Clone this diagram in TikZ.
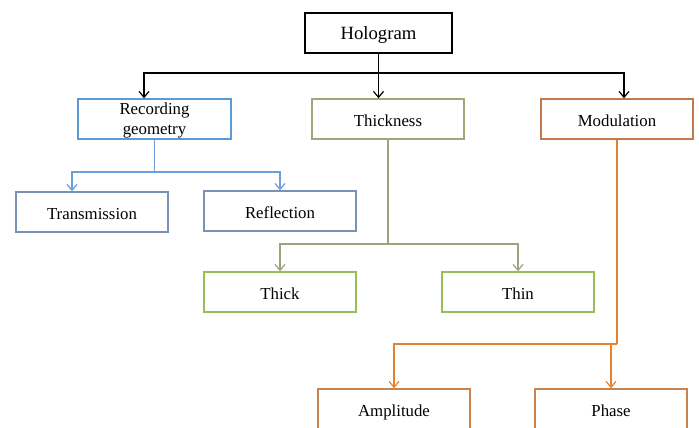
\documentclass[tikz,border=0pt]{standalone}
\usepackage{fontspec}
\setmainfont{Liberation Serif}
\usetikzlibrary{arrows.meta, positioning, calc}
\definecolor{hgBlue}{HTML}{5B9BD5}
\definecolor{hgBlueDk}{HTML}{7A93B5}
\definecolor{hgBlueLn}{HTML}{6A9FDB}
\definecolor{hgOlive}{HTML}{9BAA76}
\definecolor{hgGreen}{HTML}{9BBB59}
\definecolor{hgGreenLn}{HTML}{98A67E}
\definecolor{hgBrown}{HTML}{C07A4C}
\definecolor{hgOrange}{HTML}{C8834E}
\definecolor{hgOrangeLn}{HTML}{E6822E}

\begin{document}
\begin{tikzpicture}[
    x=1pt, y=-1pt,
    box/.style={draw, line width=1.4pt, fill=white, minimum width=152pt,
                minimum height=40pt, inner sep=0pt, align=center,
                text height=14pt, text depth=0pt,
                font=\fontsize{16.8}{20}\selectfont, text=black},
    link/.style={line width=1.2pt},
    tip/.style={link, -{Straight Barb[length=6pt, width=10pt]}},
  ]
  \useasboundingbox (0,0) rectangle (699,428);
  \clip (0,0) rectangle (699,428);

  \node[box, draw=black, minimum width=147pt, font=\fontsize{18.7}{22}\selectfont] (holo) at (378.5,33) {Hologram};

  \node[box, draw=hgBlue, minimum width=153pt, text height={}, text depth=-3pt] (rec) at (154.5,119) {Recording\\geometry};
  \node[box, draw=hgOlive] (thk) at (388,119) {Thickness};
  \node[box, draw=hgBrown] (mod) at (617,119) {Modulation};

  \node[box, draw=hgBlueDk] (trans) at (92,212) {Transmission};
  \node[box, draw=hgBlueDk] (refl) at (280,211) {Reflection};

  \node[box, draw=hgGreen] (thick) at (280,292) {Thick};
  \node[box, draw=hgGreen] (thin) at (518,292) {Thin};

  \node[box, draw=hgOrange] (amp) at (394,409) {Amplitude};
  \node[box, draw=hgOrange] (phase) at (611,409) {Phase};

  % top level: hologram to the three kinds
  \coordinate (hbus) at (378.5,73);
  \draw[tip, draw=black] (holo.south) -- (holo.south |- thk.north);
  \draw[tip, draw=black] (hbus) -| ([xshift=-10.5pt]rec.north);
  \draw[tip, draw=black] (hbus) -| ([xshift=7pt]mod.north);

  % recording geometry
  \coordinate (rbus) at (154.5,172);
  \draw[link, hgBlueLn] (rec.south) -- (rbus);
  \draw[tip, hgBlueLn] (rbus) -| ([xshift=-20pt]trans.north);
  \draw[tip, hgBlueLn] (rbus) -| (refl.north);

  % thickness
  \coordinate (tbus) at (388,244);
  \draw[link, hgGreenLn] (thk.south) -- (tbus);
  \draw[tip, hgGreenLn] (tbus) -| (thick.north);
  \draw[tip, hgGreenLn] (tbus) -| (thin.north);

  % modulation
  \coordinate (mbus) at (617,344);
  \draw[link, hgOrangeLn] (mod.south) -- (mbus);
  \draw[tip, hgOrangeLn] (mbus) -| (amp.north);
  \draw[tip, hgOrangeLn] (mbus) -| (phase.north);
\end{tikzpicture}
\end{document}
